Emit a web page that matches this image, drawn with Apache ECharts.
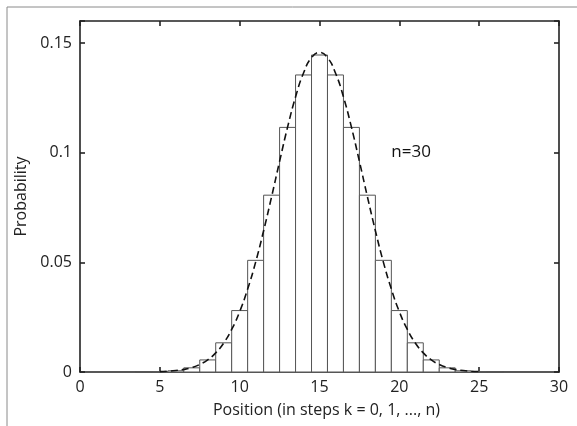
<!DOCTYPE html>
<html><head><meta charset="utf-8">
<script src="https://cdn.jsdelivr.net/npm/echarts@6/dist/echarts.min.js"></script>
<style>html,body{margin:0;padding:0;background:#fff}#c{width:577px;height:426px}</style>
</head><body><div id="c"></div>
<script>
const positions = [0,1,2,3,4,5,6,7,8,9,10,11,12,13,14,15,16,17,18,19,20,21,22,23,24,25,26,27,28,29,30];
const probabilities = [0,0,0,0,0.00003,0.00013,0.00055,0.0019,0.0055,0.0133,0.0280,0.0509,0.0806,0.1115,0.1354,0.1445,0.1354,0.1115,0.0806,0.0509,0.0280,0.0133,0.0055,0.0019,0.00055,0.00013,0.00003,0,0,0,0];
const curveX = [5,5.5,6,6.5,7,7.5,8,8.5,9,9.5,10,10.5,11,11.5,12,12.5,13,13.5,14,14.5,15,15.5,16,16.5,17,17.5,18,18.5,19,19.5,20,20.5,21,21.5,22,22.5,23,23.5,24,24.5,25];
const curveY = [0.00019,0.00036,0.00066,0.00118,0.00204,0.00343,0.00555,0.0087,0.0132,0.0194,0.0275,0.0378,0.0501,0.0644,0.0799,0.0960,0.1116,0.1254,0.1363,0.1433,0.1457,0.1433,0.1363,0.1254,0.1116,0.0960,0.0799,0.0644,0.0501,0.0378,0.0275,0.0194,0.0132,0.0087,0.00555,0.00343,0.00204,0.00118,0.00066,0.00036,0.00019];
const xTicks = [0,5,10,15,20,25,30];
const yTicks = [0,0.05,0.1,0.15];

const chart = echarts.init(document.getElementById('c'));
const font = '"Open Sans", "Noto Sans", sans-serif';
function axisCommon(){ return {
  axisLine:{show:true,onZero:false,lineStyle:{color:'#222',width:1.6}},
  axisTick:{show:true,inside:true,length:5,lineStyle:{color:'#222',width:1.6}},
  splitLine:{show:false}
};}
chart.setOption({
  animation:false,
  backgroundColor:'#fff',
  graphic:[{type:'rect',shape:{x:7,y:7,width:700,height:600},style:{fill:'none',stroke:'#8a8a8a',lineWidth:1},z:-10}],
  grid:{left:80,right:18,top:21,bottom:54},
  xAxis:[
    Object.assign({type:'value',min:0,max:30,interval:5,position:'bottom',
      axisLabel:{color:'#222',fontSize:16,fontFamily:font,margin:7},
      name:'Position (in steps k = 0, 1, ..., n)',nameLocation:'middle',nameGap:30,
      nameTextStyle:{color:'#222',fontSize:16,fontFamily:font,padding:[0,0,0,14]}},axisCommon()),
    Object.assign({type:'value',min:0,max:30,interval:5,position:'top',axisLabel:{show:false}},axisCommon())
  ],
  yAxis:[
    Object.assign({type:'value',min:0,max:0.16,interval:0.05,position:'left',
      axisLabel:{color:'#222',fontSize:16,fontFamily:font,margin:8,
        formatter:v=>yTicks.some(t=>Math.abs(t-v)<1e-9)?String(+v.toFixed(2)):''},
      name:'Probability',nameLocation:'middle',nameGap:49,nameRotate:90,
      nameTextStyle:{color:'#222',fontSize:16,fontFamily:font}},axisCommon()),
    Object.assign({type:'value',min:0,max:0.16,interval:0.05,position:'right',axisLabel:{show:false}},axisCommon())
  ],
  series:[
    {type:'custom',
     data:positions.map((k,i)=>[k,probabilities[i]]),
     renderItem:(params,api)=>{
       const k=api.value(0), p=api.value(1);
       if(p<=0) return null;
       const a=api.coord([k-0.5,p]), b=api.coord([k+0.5,0]);
       return {type:'rect',shape:{x:a[0],y:a[1],width:b[0]-a[0],height:b[1]-a[1]},
         style:{fill:'#fff',stroke:'#555',lineWidth:1}};
     },z:2},
    {type:'line',data:curveX.map((x,i)=>[x,curveY[i]]),smooth:true,showSymbol:false,
     lineStyle:{color:'#111',width:1.6,type:[7,4]},z:3},
    {type:'scatter',data:[[19.5,0.1001]],symbolSize:0,silent:true,
     itemStyle:{opacity:1},
     label:{show:true,formatter:'n=30',position:'right',distance:0,color:'#111',opacity:1,fontSize:17,fontFamily:font},z:4}
  ]
});
</script></body></html>
